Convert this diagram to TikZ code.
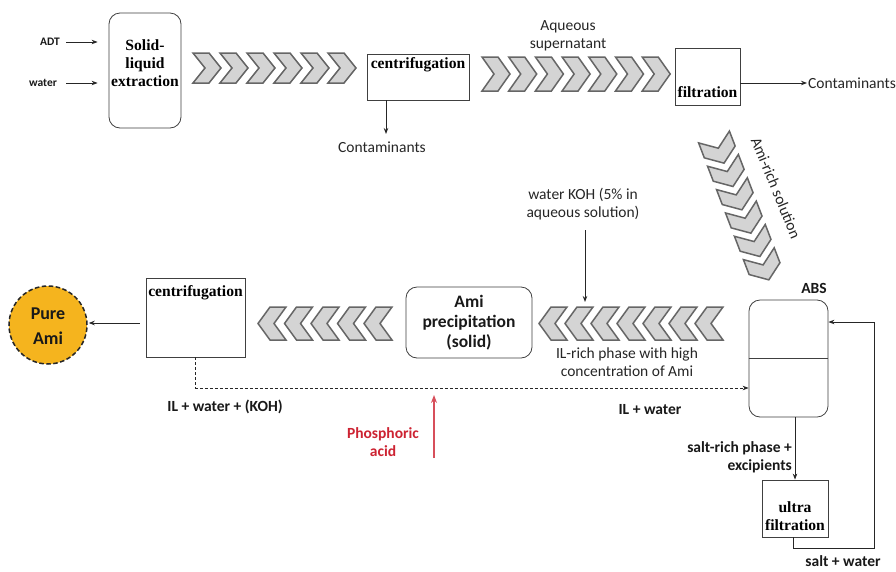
\documentclass[tikz,border=0pt]{standalone}
\usepackage{fontspec}
\setmainfont{Liberation Serif}
\newfontfamily\calfont{Carlito}
\usetikzlibrary{arrows.meta}

\definecolor{amiorange}{RGB}{245,180,30}
\definecolor{acidred}{RGB}{205,35,50}

\tikzset{
  box/.style={draw=black!75, line width=0.8pt, inner sep=0pt},
  rbox/.style={box, rounded corners=11pt},
  stxt/.style={font=\calfont\fontsize{15.5}{18}\selectfont, align=center, inner sep=1pt, text=black!85},
  btxt/.style={font=\calfont\bfseries\fontsize{15.5}{18}\selectfont, align=center, inner sep=1pt, text=black!90},
  sertxt/.style={font=\bfseries\fontsize{15.6}{18}\selectfont, align=center, inner sep=1pt},
  flow/.style={-{Stealth[length=6pt,width=4.5pt]}, line width=0.9pt, draw=black!85},
  chevstyle/.style={fill=black!17, draw=black!60, line width=1.5pt, line join=miter},
}

% one chevron, pointing along +x, back edge at x=0
\newcommand\chevshape[1]{(0,-#1/2) -- (16,-#1/2) -- (28,0) -- (16,#1/2) -- (0,#1/2) -- (12,0) -- cycle}

\begin{document}
\begin{tikzpicture}[x=1pt,y=-1pt]
\useasboundingbox[fill=white] (0,0) rectangle (896,571);

% ---- top line: extraction, centrifugation, filtration
\node[rbox, minimum width=72pt, minimum height=115pt] (sle) at (145,70.5) {};
\node[sertxt] at (145,63) {Solid-\\liquid\\extraction};

\node[btxt, font=\calfont\bfseries\fontsize{11.5}{13}\selectfont] (adt) at (50,42) {ADT};
\node[btxt, font=\calfont\bfseries\fontsize{11.5}{13}\selectfont] (wat) at (43,83) {water};
\draw[flow] (66,42) -- ([xshift=-11pt]sle.west |- adt);
\draw[flow] (66,83) -- ([xshift=-11pt]sle.west |- wat);

\foreach \i in {0,...,5} {\draw[chevstyle, shift={(193+27*\i,68)}] \chevshape{30};}

\node[box, minimum width=102pt, minimum height=46pt] (cf1) at (418,77) {};
\node[sertxt] at (418,65) {centrifugation};
\node[stxt] (cont1) at (382,147) {Contaminants};
\draw[flow] (386,100) -- (386,134);

\node[stxt] at (568,36) {Aqueous\\supernatant};
\foreach \i in {0,...,6} {\draw[chevstyle, shift={(482+26.7*\i,74)}] \chevshape{34};}

\node[box, minimum width=65pt, minimum height=57pt] (flt) at (707.5,76.5) {};
\node[sertxt] at (707.5,92) {filtration};
\node[stxt, anchor=west] (cont2) at (807,83) {Contaminants};
\draw[flow] (flt.east |- cont2) -- (cont2.west);

% ---- descent to the ABS
\foreach \i in {0,...,5} {\draw[chevstyle, shift={(714,137)}, rotate=-69, shift={(25*\i,0)}] \chevshape{33};}
\node[stxt, rotate=-67.7] at (776,188) {Ami-rich solution};

\node[btxt] at (814,288) {ABS};
\node[rbox, minimum width=79pt, minimum height=117pt] (abs) at (788.5,358.5) {};
\draw[line width=0.8pt, black!75] (abs.west |- 0,358) -- (abs.east |- 0,358);

% ---- salt loop through ultrafiltration
\node[box, minimum width=66pt, minimum height=57pt] (uf) at (795,508.5) {};
\node[sertxt] at (795,516) {ultra\\filtration};
\draw[flow] (uf.north |- abs.south) -- (uf.north);
\node[btxt, align=right, anchor=east] at (793,457) {salt-rich phase +\\excipients};
\draw[flow] ([xshift=-2pt]uf.south) -- ++(0,11) -| (874,322) -- (abs.east |- 0,322);
\node[btxt] at (843,561) {salt + water};

% ---- back line: precipitation, centrifugation, product
\foreach \i in {0,...,6} {\draw[chevstyle, shift={(723-26*\i,323.5)}, xscale=-1] \chevshape{33};}
\node[stxt] at (627,362) {IL-rich phase with high\\concentration of Ami};
\node[stxt] (koh) at (583,204) {water KOH (5\% in\\aqueous solution)};
\coordinate (kohA) at (585,230);
\coordinate (kohB) at (585,302);
\draw[flow] (kohA) -- (kohB);

\node[rbox, minimum width=126pt, minimum height=71pt] (amip) at (469,322.5) {};
\node[btxt, font=\calfont\bfseries\fontsize{17.5}{20}\selectfont] at (469,323) {Ami\\precipitation\\(solid)};

\foreach \i in {0,...,4} {\draw[chevstyle, shift={(392-26.5*\i,323.5)}, xscale=-1] \chevshape{33};}

\node[box, minimum width=99pt, minimum height=79pt] (cf2) at (195.5,317.5) {};
\node[sertxt] at (195.5,293) {centrifugation};

\node[circle, minimum size=78pt, inner sep=0pt, fill=amiorange, draw=black!85, line width=1.5pt,
      dash pattern=on 4.5pt off 2.5pt] (pure) at (48,325) {};
\node[btxt, font=\calfont\bfseries\fontsize{18}{25}\selectfont] at (48,326) {Pure\\Ami};
\draw[flow] ([xshift=-6pt]cf2.west |- 0,323) -- ([xshift=1pt]pure.east |- 0,323);

% ---- recycled IL stream
\draw[flow, dashed, dash pattern=on 3pt off 2pt, line width=0.8pt] (cf2.south) |- (abs.west |- 0,388);
\node[btxt] at (225,407) {IL + water + (KOH)};
\node[btxt] at (650,410) {IL + water};

\coordinate (acidA) at (434,458);
\coordinate (acidB) at (434,395);
\draw[-{Stealth[length=8pt,width=6pt]}, line width=1.2pt, draw=acidred!80] (acidA) -- (acidB);
\node[btxt, text=acidred] at (383,442) {Phosphoric\\acid};

\end{tikzpicture}
\end{document}
